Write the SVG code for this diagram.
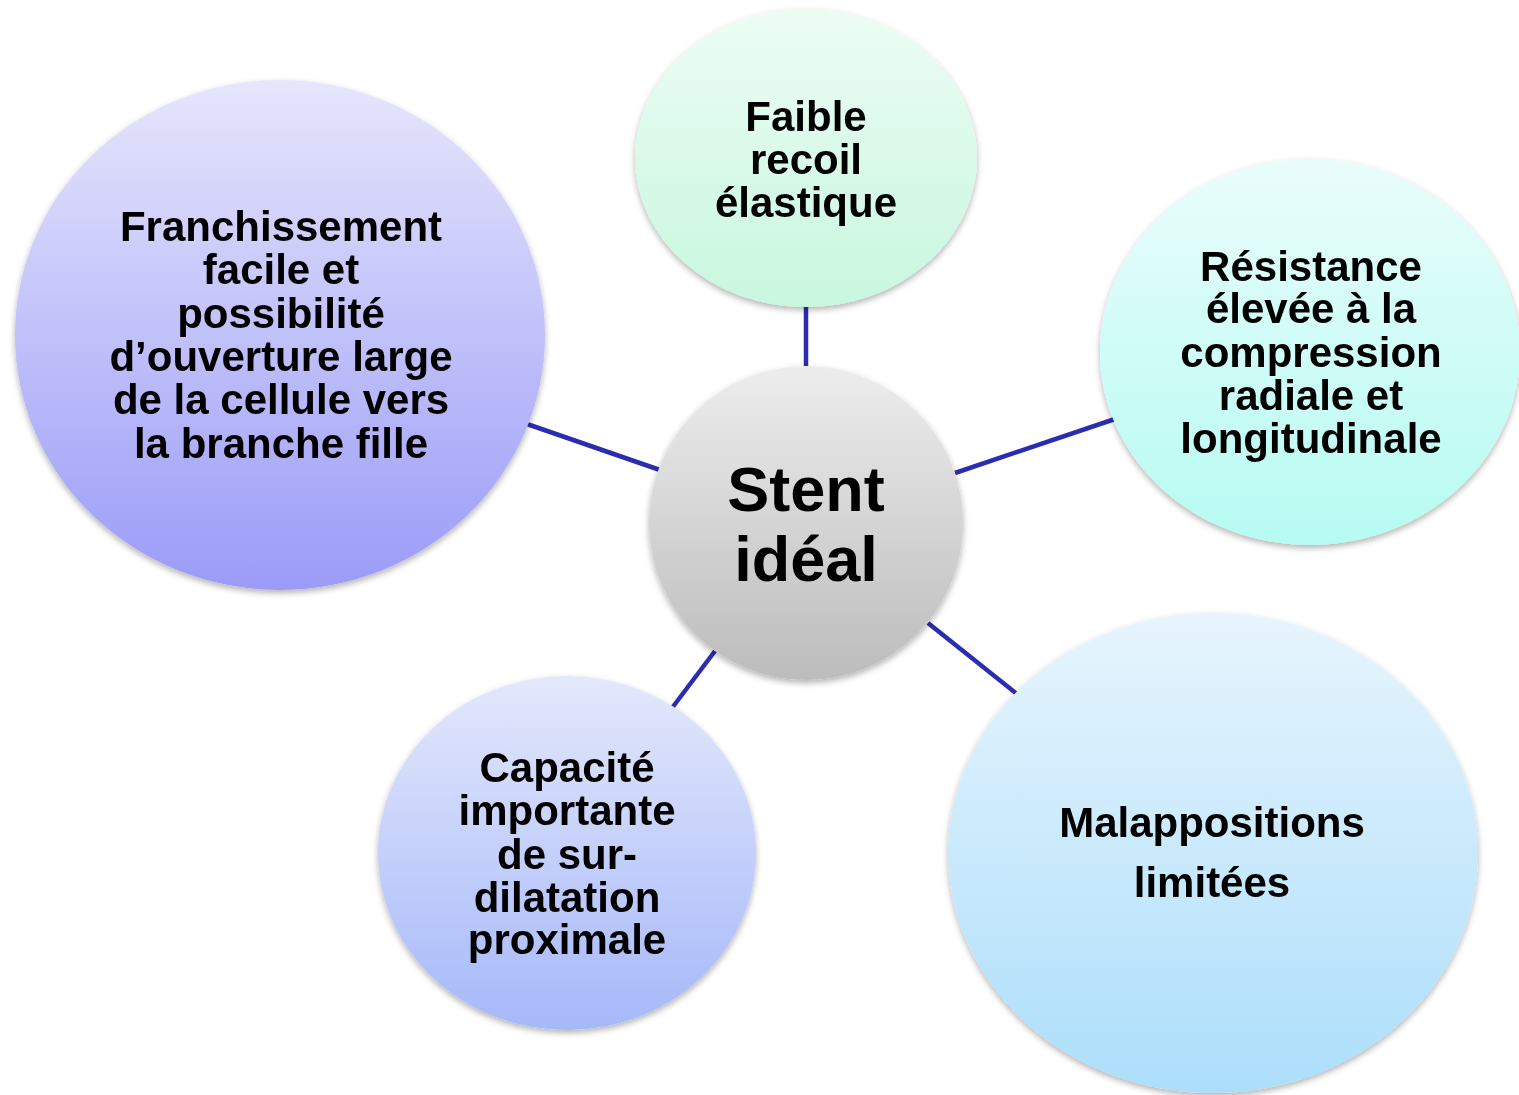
<svg xmlns="http://www.w3.org/2000/svg" width="1519" height="1095" viewBox="0 0 1519 1095">
<style>
  .lbl { font-family: "Liberation Sans", Arial, sans-serif; font-weight: bold; font-size: 42px; fill: #000; text-anchor: middle; }
  .big { font-size: 63px; }
  .conn { stroke: #2b2db0; stroke-width: 4.5; fill: none; }
  .node { filter: url(#sh); }
</style>
<defs>
  <filter id="sh" x="-10%" y="-10%" width="120%" height="125%">
    <feDropShadow dx="0" dy="3" stdDeviation="3" flood-color="#000" flood-opacity="0.3"/>
  </filter>
  <linearGradient id="gC" x1="0" y1="0" x2="0" y2="1"><stop offset="0" stop-color="#ededed"/><stop offset="1" stop-color="#bcbcbc"/></linearGradient>
  <linearGradient id="gT" x1="0" y1="0" x2="0" y2="1"><stop offset="0" stop-color="#ecfdf4"/><stop offset="1" stop-color="#c8f7df"/></linearGradient>
  <linearGradient id="gL" x1="0" y1="0" x2="0" y2="1"><stop offset="0" stop-color="#e6e6fc"/><stop offset="1" stop-color="#9b9bf8"/></linearGradient>
  <linearGradient id="gR" x1="0" y1="0" x2="0" y2="1"><stop offset="0" stop-color="#e9fdfb"/><stop offset="1" stop-color="#b6fbf2"/></linearGradient>
  <linearGradient id="gBR" x1="0" y1="0" x2="0" y2="1"><stop offset="0" stop-color="#e7f5fd"/><stop offset="1" stop-color="#acdefb"/></linearGradient>
  <linearGradient id="gBL" x1="0" y1="0" x2="0" y2="1"><stop offset="0" stop-color="#e4e8fc"/><stop offset="1" stop-color="#a5b8f9"/></linearGradient>
</defs>
<rect width="1519" height="1095" fill="#fff"/>
<g id="connectors">
  <line class="conn" x1="806" y1="306" x2="806" y2="368"/>
  <line class="conn" x1="527" y1="424" x2="660" y2="470"/>
  <line class="conn" x1="955" y1="473" x2="1115" y2="419"/>
  <line class="conn" x1="928" y1="623" x2="1017" y2="694"/>
  <line class="conn" x1="715" y1="651" x2="672" y2="708"/>
</g>
<g id="node-top" class="node">
  <ellipse cx="806" cy="158" rx="171" ry="149" fill="url(#gT)"/>
  <text class="lbl"><tspan x="806" y="131">Faible</tspan><tspan x="806" y="174">recoil</tspan><tspan x="806" y="217">élastique</tspan></text>
</g>
<g id="node-left" class="node">
  <ellipse cx="280" cy="335" rx="265" ry="255" fill="url(#gL)"/>
  <text class="lbl"><tspan x="281" y="241">Franchissement</tspan><tspan x="281" y="284">facile et</tspan><tspan x="281" y="328">possibilité</tspan><tspan x="281" y="371">d’ouverture large</tspan><tspan x="281" y="414">de la cellule vers</tspan><tspan x="281" y="458">la branche fille</tspan></text>
</g>
<g id="node-right" class="node">
  <ellipse cx="1310" cy="352" rx="210" ry="193" fill="url(#gR)"/>
  <text class="lbl"><tspan x="1311" y="281">Résistance</tspan><tspan x="1311" y="323">élevée à la</tspan><tspan x="1311" y="367">compression</tspan><tspan x="1311" y="410">radiale et</tspan><tspan x="1311" y="453">longitudinale</tspan></text>
</g>
<g id="node-bottom-right" class="node">
  <ellipse cx="1213" cy="853" rx="265" ry="240" fill="url(#gBR)"/>
  <text class="lbl"><tspan x="1212" y="837">Malappositions</tspan><tspan x="1212" y="897">limitées</tspan></text>
</g>
<g id="node-bottom-left" class="node">
  <ellipse cx="567" cy="853" rx="189" ry="177" fill="url(#gBL)"/>
  <text class="lbl"><tspan x="567" y="782">Capacité</tspan><tspan x="567" y="825">importante</tspan><tspan x="567" y="869">de sur-</tspan><tspan x="567" y="912">dilatation</tspan><tspan x="567" y="954">proximale</tspan></text>
</g>
<g id="node-center" class="node">
  <circle cx="806" cy="523" r="157" fill="url(#gC)"/>
  <text class="lbl big"><tspan x="806" y="511">Stent</tspan><tspan x="806" y="581">idéal</tspan></text>
</g>
</svg>
